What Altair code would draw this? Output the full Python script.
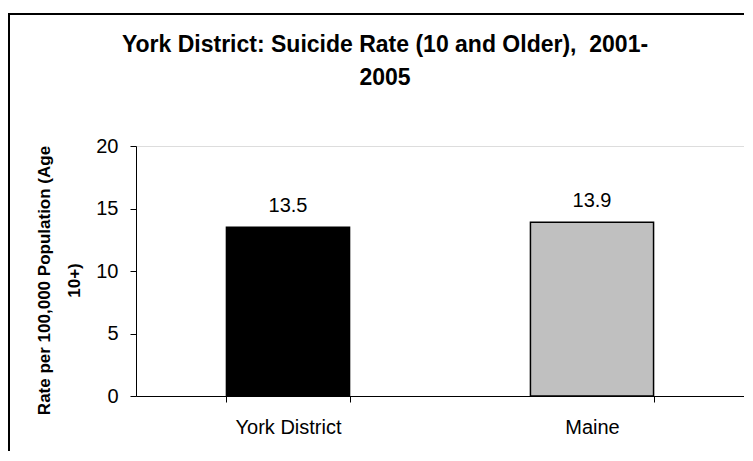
import altair as alt
import pandas as pd

categories = ["York District", "Maine"]
rates = [13.5, 13.9]
labels = ["13.5", "13.9"]
fills = ["#000000", "#C0C0C0"]
y_ticks = [0, 5, 10, 15, 20]
title_lines = ["York District: Suicide Rate (10 and Older),\u00a0 2001-", "2005"]
y_title = ["Rate per 100,000 Population (Age", "10+)"]

df = pd.DataFrame({"region": categories, "rate": rates, "label": labels, "fill": fills})

W, H = 608, 250
FONT = "Liberation Sans"

x_enc = alt.X(
    "region:N", sort=categories, title=None,
    scale=alt.Scale(paddingInner=0.595, paddingOuter=0.2975),
    axis=alt.Axis(labelAngle=0, tickBand="extent", domainColor="black", tickColor="black",
                  tickSize=6, labelFont=FONT, labelFontSize=20, labelColor="black",
                  labelBaseline="alphabetic", labelPadding=31, grid=False),
)
y_enc = alt.Y(
    "rate:Q", scale=alt.Scale(domain=[0, 20]),
    axis=alt.Axis(values=y_ticks, grid=False, domainColor="black", tickColor="black",
                  tickSize=6, labelFont=FONT, labelFontSize=20, labelColor="black",
                  labelPadding=12, title=y_title, titleFont=FONT, titleFontSize=17,
                  titleFontWeight="bold", titleColor="black", titleLineHeight=30,
                  titleAngle=270, titleX=-87, titleY=134, titleAlign="center",
                  titleBaseline="alphabetic"),
)

bars = alt.Chart(df).mark_bar(stroke="black", strokeWidth=1.5).encode(
    x=x_enc, y=y_enc, color=alt.Color("fill:N", scale=None)
)
text = alt.Chart(df).mark_text(dy=-15, baseline="alphabetic", font=FONT, fontSize=20,
                               color="black").encode(
    x=alt.X("region:N", sort=categories), y="rate:Q", text="label:N"
)
one = pd.DataFrame({"k": [0]})
border = alt.Chart(one).mark_rect(
    filled=False, stroke="black", strokeWidth=2
).encode(x=alt.value(-127), x2=alt.value(W + 60), y=alt.value(-132), y2=alt.value(H + 120))

title = alt.Chart(one).mark_text(
    text=title_lines, font=FONT, fontSize=23, fontWeight="bold", color="black",
    align="center", baseline="alphabetic", lineHeight=33
).encode(x=alt.value(249), y=alt.value(-94))

chart = alt.layer(border, bars, text, title).properties(
    width=W, height=H,
    autosize=alt.AutoSizeParams(type="none"),
    padding={"left": 128, "top": 138, "right": 0, "bottom": 55},
).configure_view(stroke=None).configure(background="white")

chart.save("out.html", embed_options={"renderer": "svg", "actions": False})
